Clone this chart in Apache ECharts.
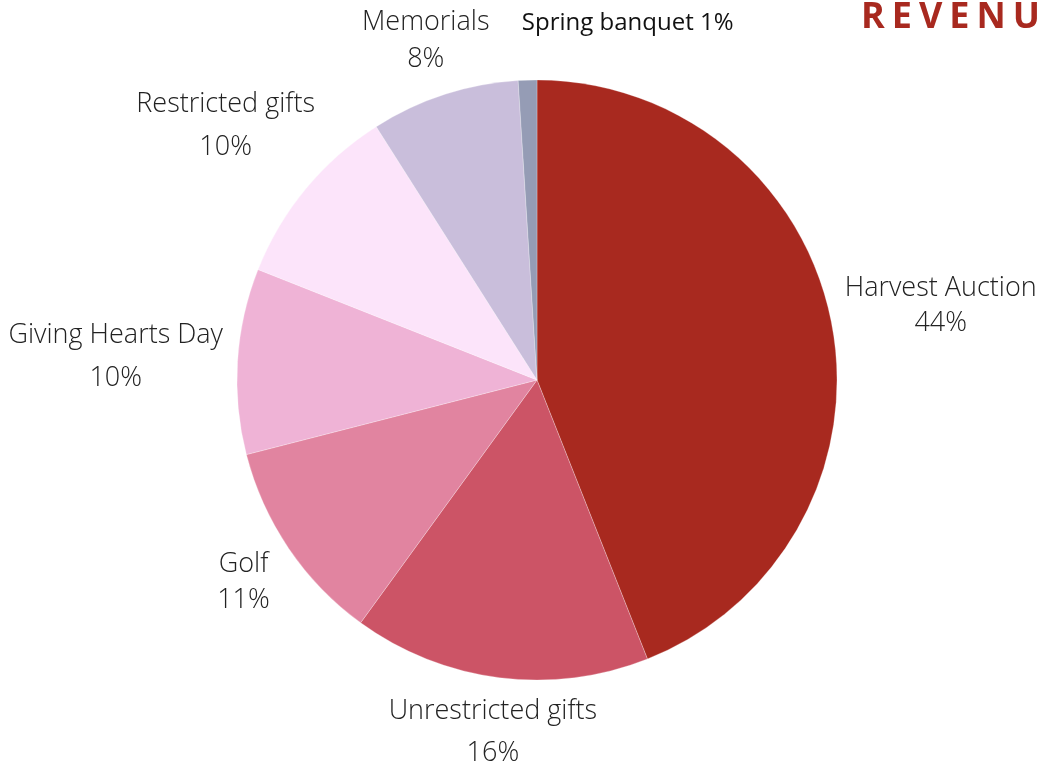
<!DOCTYPE html>
<html>
<head>
<meta charset="utf-8">
<script src="https://cdn.jsdelivr.net/npm/echarts@6/dist/echarts.min.js"></script>
<style>
html,body{margin:0;padding:0;background:#fff;}
#chart{width:1041px;height:769px;}
</style>
</head>
<body>
<div id="chart"></div>
<script>
// Data
const categories = ['Harvest Auction', 'Unrestricted gifts', 'Golf', 'Giving Hearts Day', 'Restricted gifts', 'Memorials', 'Spring banquet'];
const values = [44, 16, 11, 10, 10, 8, 1];
const titleText = 'REVENUE';

// Styles / layout
const sliceColors = ['#A8291F', '#CC5466', '#E184A0', '#EFB3D6', '#FCE4FA', '#C9BEDB', '#959CB5'];
const labelRadiusFactor = [1.37, 1.173, 1.183, 1.407, 1.347, 1.2, 1.2];
const labelShiftX = [0, 0, 0, 0, 0, 0, 102];
const labelShiftY = 3;
const labelLineHeights = [35, 42, 36, 43, 43, 37, 28];
const pieCenter = [537, 380];
const pieRadius = 300;

const total = values.reduce((a, b) => a + b, 0);
const midAngles = [];
let acc = 0;
values.forEach(v => { midAngles.push((acc + v / 2) / total * 2 * Math.PI); acc += v; });

const chart = echarts.init(document.getElementById('chart'), null, {renderer: 'canvas'});

const data = categories.map((name, i) => {
  const item = {
    name: name,
    value: values[i],
    itemStyle: {color: sliceColors[i]},
    label: {lineHeight: labelLineHeights[i]}
  };
  if (name === 'Spring banquet') {
    item.label = {
      formatter: '{b} {c}%',
      fontSize: 24,
      fontWeight: 'normal',
      color: '#111111',
      lineHeight: labelLineHeights[i]
    };
  }
  return item;
});

const titleRich = titleText.split('').map(ch => '{a|' + ch + '}').join('');

chart.setOption({
  animation: false,
  backgroundColor: '#ffffff',
  title: {
    text: titleRich,
    left: 861,
    top: 0,
    padding: 0,
    textStyle: {
      rich: {
        a: {
          fontFamily: 'Open Sans',
          fontWeight: 'bold',
          fontSize: 36,
          color: '#A8291F',
          padding: [0, 7, 0, 0]
        }
      }
    }
  },
  series: [{
    type: 'pie',
    center: pieCenter,
    radius: pieRadius,
    startAngle: 90,
    clockwise: true,
    avoidLabelOverlap: false,
    data: data,
    itemStyle: {borderColor: 'rgba(255,255,255,0.5)', borderWidth: 0.5},
    label: {
      show: true,
      position: 'outside',
      formatter: '{b}\n{c}%',
      fontFamily: 'Open Sans',
      fontWeight: 300,
      fontSize: 27,
      color: '#222222',
      align: 'center'
    },
    labelLine: {show: false},
    labelLayout: function (params) {
      const i = params.dataIndex;
      const a = midAngles[i];
      const d = pieRadius * labelRadiusFactor[i];
      return {
        x: pieCenter[0] + Math.sin(a) * d + labelShiftX[i],
        y: pieCenter[1] - Math.cos(a) * d + labelShiftY,
        align: 'center',
        verticalAlign: 'middle'
      };
    },
    emphasis: {disabled: true}
  }]
});
</script>
</body>
</html>
